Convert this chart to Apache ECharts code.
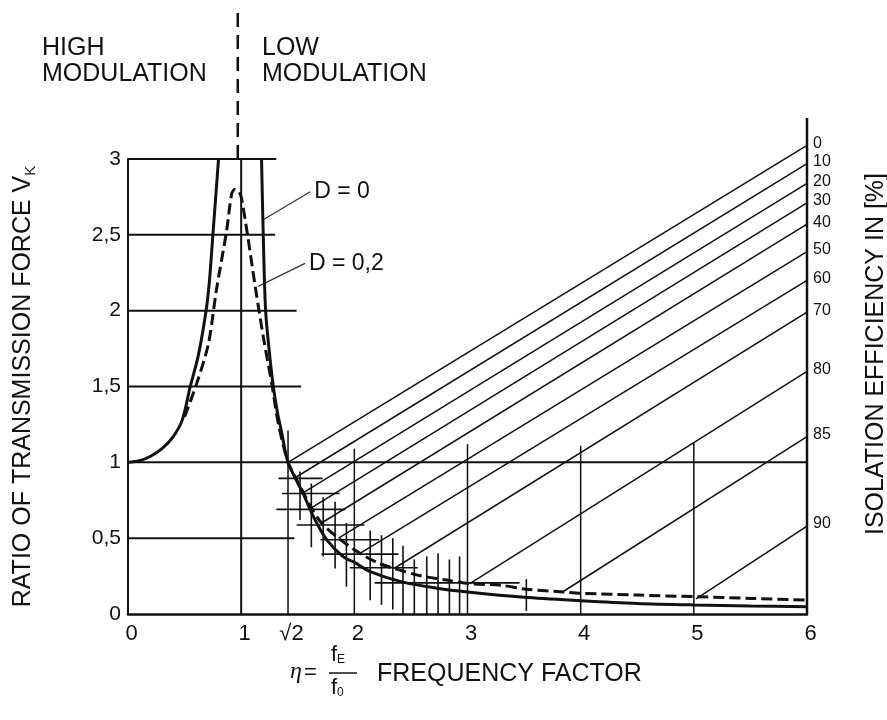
<!DOCTYPE html>
<html>
<head>
<meta charset="utf-8">
<script src="https://cdn.jsdelivr.net/npm/echarts@6/dist/echarts.min.js"></script>
<style>
  html, body { margin: 0; padding: 0; background: #fff; }
  #chart { width: 887px; height: 720px; }
</style>
</head>
<body>
<div id="chart"></div>
<script>
// ---------- data ----------
const xTickValues = [0, 1, 1.414, 2, 3, 4, 5, 6];
const xTickLabels = ['0', '1', '\u221A2', '2', '3', '4', '5', '6'];

// transmission curve, damping D = 0 (two branches around resonance)
const curveD0Left = [[0, 1], [0.1, 1.01], [0.2, 1.04], [0.3, 1.09], [0.4, 1.17], [0.48, 1.28],
  [0.55, 1.5], [0.62, 1.7], [0.69, 2.0], [0.72, 2.2], [0.75, 2.5], [0.78, 2.8], [0.80, 3.0]];
const curveD0Right = [[1.18, 3.0], [1.195, 2.5], [1.216, 2.0], [1.25, 1.72], [1.284, 1.5],
  [1.32, 1.33], [1.357, 1.2], [1.414, 1.0], [1.55, 0.79], [1.64, 0.64], [1.755, 0.49],
  [1.9, 0.378], [2.0, 0.34], [2.14, 0.28], [2.43, 0.21], [2.73, 0.17], [3.0, 0.145],
  [3.5, 0.11], [4.0, 0.088], [4.5, 0.07], [5.0, 0.06], [5.5, 0.053], [6.0, 0.048]];
// transmission curve, damping D = 0,2
const curveD02 = [[0.5, 1.3], [0.607, 1.52], [0.71, 1.78], [0.78, 2.13], [0.872, 2.53],
  [0.916, 2.77], [0.945, 2.8], [0.975, 2.79], [1.0, 2.75], [1.05, 2.53], [1.12, 2.18],
  [1.195, 1.83], [1.27, 1.52], [1.33, 1.25], [1.414, 1.0], [1.48, 0.9], [1.55, 0.8],
  [1.62, 0.7], [1.71, 0.6], [1.86, 0.5], [2.05, 0.4], [2.2, 0.34], [2.35, 0.3], [2.6, 0.25],
  [2.815, 0.224], [3.02, 0.2], [3.29, 0.19], [3.52, 0.163], [3.85, 0.145], [4.02, 0.136],
  [4.5, 0.125], [5.02, 0.114], [5.5, 0.103], [6.0, 0.092]];

// isolation efficiency lines: label, start point on the D=0,2 curve, end value at eta = 6
const effLabels = ['0', '10', '20', '30', '40', '50', '60', '70', '80', '85', '90'];
const effStartX = [1.414, 1.48, 1.55, 1.62, 1.71, 1.86, 2.05, 2.35, 3.02, 3.85, 5.02];
const effStartY = [1.0, 0.9, 0.8, 0.7, 0.6, 0.5, 0.4, 0.3, 0.2, 0.15, 0.1];
const effEndX = 6;
const effEndY = [3.09, 2.97, 2.84, 2.71, 2.57, 2.39, 2.20, 1.99, 1.60, 1.17, 0.58];

// partial horizontal grid lines: [y, x from, x to]
const gridH = [[0.5, 0, 1.47], [1, 0, 6], [1.5, 0, 1.53], [2, 0, 1.49], [2.5, 0, 1.30], [3, 0, 1.31]];
// vertical grid lines: [x, y from, y to]
const gridV = [[1, 0, 3], [1.414, 0, 1.21], [2, 0, 1.09], [3, 0, 1.12], [4, 0, 1.11], [5, 0, 1.13], [6, 0, 3.27]];
// resonance divider (dashed, above the plot)
const divider = [[0.97, 3], [0.97, 4]];

// hatch marks along the curve: horizontal [y, x0, x1], vertical [x, y0, y1]
const hatchH = [[0.894, 1.33, 1.72], [0.795, 1.36, 1.87], [0.69, 1.31, 1.92], [0.587, 1.49, 2.09],
  [0.49, 1.70, 2.22], [0.395, 1.71, 2.39], [0.305, 1.96, 2.56], [0.205, 2.18, 3.46]];
const hatchV = [[1.52, 0.62, 0.94], [1.62, 0.44, 0.86], [1.725, 0.38, 0.77], [1.83, 0.30, 0.74],
  [1.93, 0.18, 0.60], [2.14, 0.09, 0.55], [2.24, 0.06, 0.52], [2.34, 0.03, 0.50], [2.43, 0, 0.45],
  [2.53, 0, 0.36], [2.64, 0, 0.38], [2.74, 0, 0.40], [2.84, 0, 0.36], [2.93, 0, 0.38], [3.52, 0.02, 0.23]];

// curve labels with leader lines: label, leader start, leader end
const curveLabels = ['D = 0', 'D = 0,2'];
const leaderStart = [[1.195, 2.60], [1.151, 2.16]];
const leaderEnd = [[1.61, 2.784], [1.564, 2.312]];

// ---------- chart ----------
const INK = '#111';
const FONT = '"Liberation Sans", Arial, sans-serif';

function lineSeries(data, width, extra) {
  return Object.assign({
    type: 'line', data: data, symbol: 'none', clip: false, silent: true,
    lineStyle: { color: INK, width: width, type: 'solid' }, z: 2
  }, extra || {});
}

const series = [];
gridH.forEach(g => series.push(lineSeries([[g[1], g[0]], [g[2], g[0]]], 2)));
gridV.forEach((g, i) => series.push(lineSeries([[g[0], g[1]], [g[0], g[2]]],
  (g[0] === 6) ? 2.5 : (g[0] === 1 ? 2 : 1.5))));
series.push(lineSeries(divider, 2.5, { lineStyle: { color: INK, width: 2.5, type: [14, 8] } }));
hatchH.forEach(h => series.push(lineSeries([[h[1], h[0]], [h[2], h[0]]], 1.6)));
hatchV.forEach(v => series.push(lineSeries([[v[0], v[1]], [v[0], v[2]]], 1.6)));
effLabels.forEach((lab, i) => series.push(lineSeries(
  [[effStartX[i], effStartY[i]], [effEndX, effEndY[i]]], 1.5,
  { endLabel: { show: true, formatter: lab, distance: 6, fontSize: 16, color: INK, fontFamily: FONT, offset: [0, -2] } })));
series.push(lineSeries(curveD0Left, 3, { smooth: 0.3, z: 5 }));
series.push(lineSeries(curveD0Right, 3, { smooth: 0.3, z: 5 }));
series.push(lineSeries(curveD02, 3, { smooth: 0.3, z: 6,
  lineStyle: { color: INK, width: 3, type: [11, 5] } }));
curveLabels.forEach((lab, i) => series.push(lineSeries([leaderStart[i], leaderEnd[i]], 1.2,
  { lineStyle: { color: '#333', width: 1.2 },
    endLabel: { show: true, formatter: lab, distance: 4, fontSize: 23, color: INK, fontFamily: FONT } })));

const chart = echarts.init(document.getElementById('chart'), null, { renderer: 'canvas' });
chart.setOption({
  animation: false,
  backgroundColor: '#fff',
  textStyle: { fontFamily: FONT, color: INK },
  grid: { left: 128, right: 80, top: 159, bottom: 106, containLabel: false, outerBoundsMode: 'none' },
  xAxis: {
    type: 'value', min: 0, max: 6,
    axisLine: { show: true, onZero: false, lineStyle: { color: INK, width: 2.5 } },
    axisTick: { show: false },
    splitLine: { show: false },
    axisLabel: {
      customValues: xTickValues,
      color: INK, fontSize: 22, margin: 9, fontFamily: FONT, padding: [0, 0, 0, 7],
      formatter: function (v) {
        const i = xTickValues.findIndex(t => Math.abs(t - v) < 1e-6);
        return i >= 0 ? xTickLabels[i] : '';
      }
    }
  },
  yAxis: {
    type: 'value', min: 0, max: 3, interval: 0.5,
    axisLine: { show: true, lineStyle: { color: INK, width: 2 } },
    axisTick: { show: false },
    splitLine: { show: false },
    axisLabel: { color: INK, fontSize: 21, margin: 7, fontFamily: FONT,
      formatter: v => String(v).replace('.', ',') },
    name: '{n|RATIO OF TRANSMISSION FORCE V}{s|K}',
    nameLocation: 'middle', nameRotate: 90, nameGap: 90,
    nameTextStyle: {
      rich: {
        n: { fontSize: 25, fontFamily: FONT, color: INK, lineHeight: 30 },
        s: { fontSize: 15, fontFamily: FONT, color: INK, lineHeight: 15, verticalAlign: 'bottom' }
      }
    }
  },
  series: series,
  graphic: [
    { type: 'text', x: 42, y: 35, style: { text: 'HIGH\nMODULATION', fontSize: 25, lineHeight: 26, fontFamily: FONT, fill: INK, align: 'left', verticalAlign: 'top' } },
    { type: 'text', x: 262, y: 35, style: { text: 'LOW\nMODULATION', fontSize: 25, lineHeight: 26, fontFamily: FONT, fill: INK, align: 'left', verticalAlign: 'top' } },
    { type: 'text', x: 876, y: 354, rotation: Math.PI / 2, style: { text: 'ISOLATION EFFICIENCY IN [%]', fontSize: 25, fontFamily: FONT, fill: INK, align: 'center', verticalAlign: 'middle' } },
    { type: 'text', x: 290, y: 672, style: { text: '\u03B7', fontSize: 24, fontStyle: 'italic', fontFamily: '"Liberation Serif", serif', fill: INK, align: 'left', verticalAlign: 'middle' } },
    { type: 'text', x: 304, y: 673, style: { text: '=', fontSize: 22, fontFamily: FONT, fill: INK, align: 'left', verticalAlign: 'middle' } },
    { type: 'text', x: 331, y: 644, style: { text: '{a|f}{b|E}', fontFamily: FONT, fill: INK, align: 'left', verticalAlign: 'top',
      rich: { a: { fontSize: 22, lineHeight: 22 }, b: { fontSize: 12, lineHeight: 12, verticalAlign: 'bottom' } } } },
    { type: 'line', shape: { x1: 329, y1: 673, x2: 357, y2: 673 }, style: { stroke: INK, lineWidth: 1.5 } },
    { type: 'text', x: 331, y: 677, style: { text: '{a|f}{b|0}', fontFamily: FONT, fill: INK, align: 'left', verticalAlign: 'top',
      rich: { a: { fontSize: 22, lineHeight: 22 }, b: { fontSize: 12, lineHeight: 12, verticalAlign: 'bottom' } } } },
    { type: 'text', x: 377, y: 674, style: { text: 'FREQUENCY FACTOR', fontSize: 25, fontFamily: FONT, fill: INK, align: 'left', verticalAlign: 'middle' } }
  ]
});
</script>
</body>
</html>
